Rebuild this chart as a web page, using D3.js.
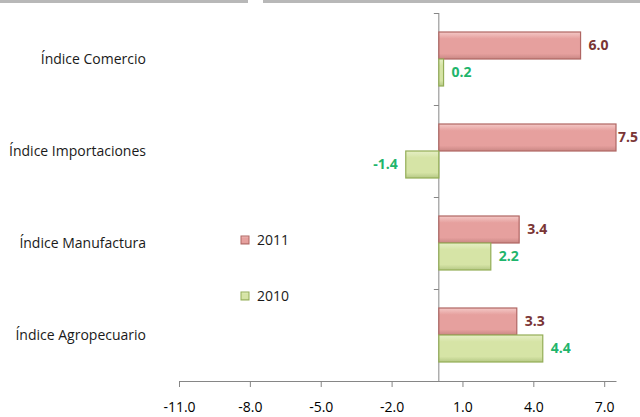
<!DOCTYPE html>
<html>
<head>
<meta charset="utf-8">
<script src="https://cdn.jsdelivr.net/npm/d3@7"></script>
<style>
  body { margin: 0; background: #fff; }
  svg { display: block; font-family: "Open Sans", sans-serif; }
</style>
</head>
<body>
<script>
// data
const categories = ["Índice Comercio", "Índice Importaciones", "Índice Manufactura", "Índice Agropecuario"];
const series = ["2011", "2010"];
const values2011 = [6.0, 7.5, 3.4, 3.3];
const values2010 = [0.2, -1.4, 2.2, 4.4];
const tickValues = [-11, -8, -5, -2, 1, 4, 7];

const seriesValues = { "2011": values2011, "2010": values2010 };
const fills = { "2011": ["#f4c9c7", "#e6a09e", "#c98784"], "2010": ["#e6efc6", "#d6e4a6", "#b5c885"] };
const strokes = { "2011": "#b06663", "2010": "#93ad56" };
const labelColors = { "2011": "#7a3535", "2010": "#1fb56c" };

const width = 640, height = 417;

const svg = d3.select("body")
    .append("svg")
    .attr("width", width)
    .attr("height", height);

// grey strip at the top of the picture
svg.append("rect").attr("x", 0).attr("y", 0).attr("width", 248).attr("height", 3).attr("fill", "#b8b8b8");
svg.append("rect").attr("x", 263).attr("y", 0).attr("width", 377).attr("height", 3).attr("fill", "#b8b8b8");

const x = d3.scaleLinear().domain([-11, 7.5]).range([179, 616]);
const y = d3.scaleBand().domain(categories).range([13, 381]);
const ySub = d3.scaleBand().domain(series).range([19, y.bandwidth() - 19]);

// gradients for the bevel look
const defs = svg.append("defs");
series.forEach(s => {
    const g = defs.append("linearGradient")
        .attr("id", "grad" + s)
        .attr("x1", 0).attr("y1", 0).attr("x2", 0).attr("y2", 1);
    g.append("stop").attr("offset", "0%").attr("stop-color", fills[s][0]);
    g.append("stop").attr("offset", "25%").attr("stop-color", fills[s][1]);
    g.append("stop").attr("offset", "80%").attr("stop-color", fills[s][1]);
    g.append("stop").attr("offset", "100%").attr("stop-color", fills[s][2]);
});

// bottom axis
const xAxis = svg.append("g")
    .attr("transform", "translate(0,381)")
    .call(d3.axisBottom(x)
        .tickValues(tickValues)
        .tickFormat(d => d.toFixed(1))
        .tickSize(6)
        .tickSizeOuter(0)
        .tickPadding(15));
xAxis.select(".domain").attr("stroke", "#868686");
xAxis.selectAll(".tick line").attr("stroke", "#868686");
xAxis.selectAll(".tick text")
    .attr("fill", "#000")
    .style("font-size", "14px")
    .style("font-family", "Open Sans, sans-serif");

// vertical axis at zero with ticks at band boundaries
const yAxis = svg.append("g");
yAxis.append("line")
    .attr("x1", x(0)).attr("x2", x(0))
    .attr("y1", y.range()[0]).attr("y2", y.range()[1])
    .attr("stroke", "#868686");
yAxis.selectAll("line.tk")
    .data(categories.map(c => y(c)))
    .join("line")
    .attr("class", "tk")
    .attr("x1", x(0) - 5).attr("x2", x(0))
    .attr("y1", d => d + 0.5).attr("y2", d => d + 0.5)
    .attr("stroke", "#868686");

// category labels
svg.append("g")
    .selectAll("text")
    .data(categories)
    .join("text")
    .attr("x", 146)
    .attr("y", d => y(d) + y.bandwidth() / 2 + 1)
    .attr("text-anchor", "end")
    .attr("dominant-baseline", "middle")
    .attr("fill", "#1a1a1a")
    .style("font-size", "14px")
    .text(d => d);

// bars
const rows = [];
categories.forEach((c, i) => {
    series.forEach(s => rows.push({ cat: c, s: s, v: seriesValues[s][i] }));
});

svg.append("g")
    .selectAll("rect")
    .data(rows)
    .join("rect")
    .attr("x", d => x(Math.min(0, d.v)))
    .attr("y", d => y(d.cat) + ySub(d.s))
    .attr("width", d => Math.abs(x(d.v) - x(0)))
    .attr("height", ySub.bandwidth())
    .attr("fill", d => "url(#grad" + d.s + ")")
    .attr("stroke", d => strokes[d.s])
    .attr("stroke-width", 1.2);

// value labels
svg.append("g")
    .selectAll("text")
    .data(rows)
    .join("text")
    .attr("x", d => d.v >= 0 ? x(d.v) + (d.v > 7 ? 2 : 8) : x(d.v) - 8)
    .attr("y", d => y(d.cat) + ySub(d.s) + ySub.bandwidth() / 2 + 1)
    .attr("text-anchor", d => d.v >= 0 ? "start" : "end")
    .attr("dominant-baseline", "middle")
    .attr("fill", d => labelColors[d.s])
    .style("font-size", "14px")
    .style("font-weight", "bold")
    .text(d => d.v.toFixed(1));

// legend
const legend = svg.append("g")
    .selectAll("g")
    .data(series)
    .join("g")
    .attr("transform", (d, i) => "translate(241," + (236 + i * 56) + ")");
legend.append("rect")
    .attr("width", 8).attr("height", 8)
    .attr("fill", d => "url(#grad" + d + ")")
    .attr("stroke", d => strokes[d]);
legend.append("text")
    .attr("x", 16).attr("y", 5)
    .attr("dominant-baseline", "middle")
    .attr("fill", "#1a1a1a")
    .style("font-size", "14px")
    .text(d => d);
</script>
</body>
</html>
